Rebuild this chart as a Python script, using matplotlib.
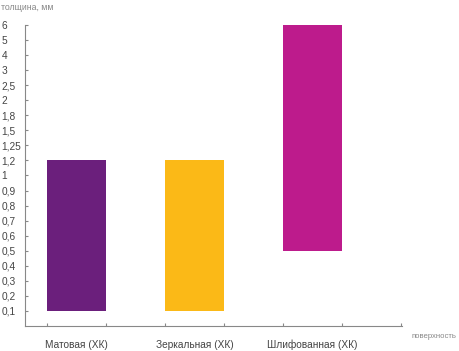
import matplotlib.pyplot as plt

plt.rcParams['font.family'] = ['Liberation Sans', 'DejaVu Sans']

# y axis is categorical: each label gets an equal step
levels = ["0,1", "0,2", "0,3", "0,4", "0,5", "0,6", "0,7", "0,8", "0,9", "1",
          "1,2", "1,25", "1,5", "1,8", "2", "2,5", "3", "4", "5", "6"]
surfaces = ["Матовая (ХК)", "Зеркальная (ХК)", "Шлифованная (ХК)"]
low = ["0,1", "0,1", "0,5"]
high = ["1,2", "1,2", "6"]
colors = ["#6b1f7c", "#fbb917", "#bd1b8c"]

fig = plt.figure(figsize=(4.59, 3.51), dpi=100)
ax = fig.add_axes([25 / 459, 1 - 326 / 351, 377 / 459, 301 / 351])

for i in range(len(surfaces)):
    b = levels.index(low[i])
    t = levels.index(high[i])
    ax.bar(2 * i, t - b, bottom=b, width=1, align="edge", color=colors[i])

ax.set_xlim(-22 / 59, 6.02)
ax.set_ylim(-1, 19)

ax.set_yticks(range(len(levels)))
ax.set_yticklabels(levels)
ax.set_xticks(range(7))
ax.set_xticklabels([])
ax.set_xticks([0.5, 2.5, 4.5], minor=True)
ax.set_xticklabels(surfaces, minor=True)

ax.tick_params(axis="y", direction="in", length=2, color="#888888",
               labelsize=7.3, labelcolor="#444444", pad=17)
for lab in ax.get_yticklabels():
    lab.set_ha("left")
ax.tick_params(axis="x", which="major", direction="in", length=2, color="#888888")
ax.tick_params(axis="x", which="minor", length=0, labelsize=7.3,
               labelcolor="#444444", pad=10)

for s in ["top", "right"]:
    ax.spines[s].set_visible(False)
for s in ["left", "bottom"]:
    ax.spines[s].set_color("#888888")
    ax.spines[s].set_linewidth(0.8)

fig.text(1 / 459, 1 - 8 / 351, "толщина, мм", fontsize=6.3, color="#888888",
         va="center", ha="left")
fig.text(411 / 459, 1 - 337 / 351, "поверхность", fontsize=5.6, color="#888888",
         va="center", ha="left")

fig.savefig("out.png", dpi=100)
